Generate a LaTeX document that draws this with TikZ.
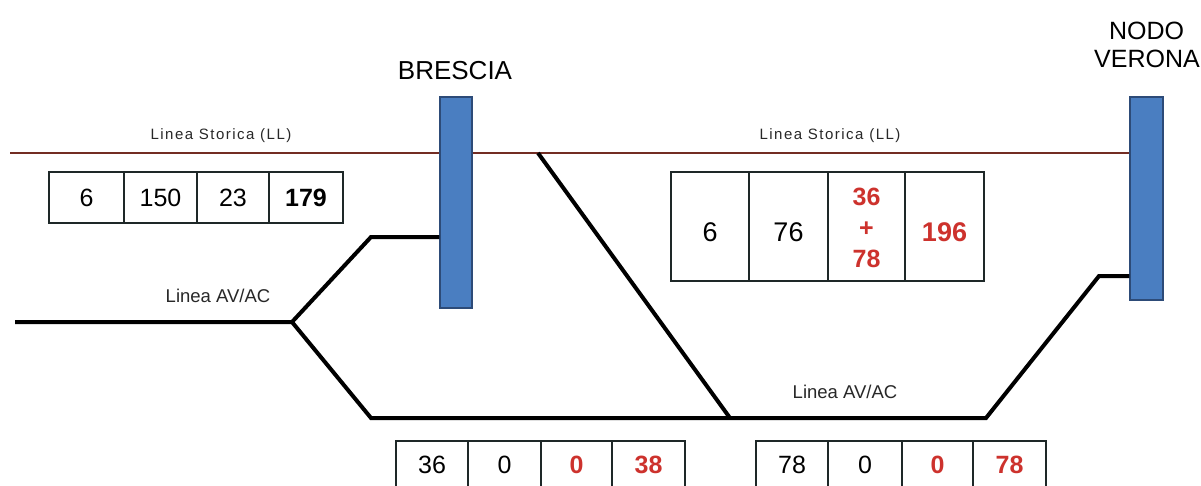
\documentclass[tikz,border=0pt]{standalone}
\usepackage{fontspec}
\setmainfont{Liberation Sans}
\definecolor{stcol}{RGB}{115,45,35}
\definecolor{barfill}{RGB}{74,126,193}
\definecolor{barline}{RGB}{45,75,120}
\definecolor{cellline}{RGB}{30,40,40}
\definecolor{numred}{RGB}{205,50,45}
\definecolor{labgray}{RGB}{40,40,40}
\begin{document}
\begin{tikzpicture}[x=1pt,y=-1pt,
  track/.style={line width=4pt, draw=black},
  storica/.style={line width=1.5pt, draw=stcol},
  bar/.style={draw=barline, fill=barfill, line width=1.2pt, inner sep=0pt},
  cell/.style={draw=cellline, line width=2pt, inner sep=0pt},
  num/.style={font=\fontsize{25}{30}\selectfont, text=black, inner sep=0pt},
  bnum/.style={font=\fontsize{25}{30}\selectfont\bfseries, text=black, inner sep=0pt},
  rnum/.style={font=\fontsize{25}{30}\selectfont\bfseries, text=numred, inner sep=0pt},
  slab/.style={font=\fontsize{15}{18}\selectfont\addfontfeatures{LetterSpace=10}, text=labgray, inner sep=0pt, anchor=base},
  alab/.style={font=\fontsize{18.5}{22}\selectfont, text=labgray, inner sep=0pt, anchor=base},
  station/.style={font=\fontsize{25}{28}\selectfont, text=black, inner sep=0pt, anchor=base}
]
\clip (0,0) rectangle (1201,485);
\fill[white] (0,0) rectangle (1201,485);

% stations
\node[bar, minimum width=32, minimum height=211] (bre) at (456,202.5) {};
\node[bar, minimum width=33, minimum height=203] (ver) at (1146.5,198.5) {};
\node[station, font=\fontsize{26}{28}\selectfont] (breL) at (455,79) {BRESCIA};
\node[station] (nodoL) at (1146.5,39) {NODO};
\node[station] (veroL) at (1147,67) {VERONA};

% Linea Storica
\coordinate (sl) at (10,153);
\draw[storica] (sl) -- (bre.west |- sl);
\draw[storica] (bre.east |- sl) -- (ver.west |- sl);
\node[slab] (stl1) at (221,139) {Linea Storica (LL)};
\node[slab] (stl2) at (830,139) {Linea Storica (LL)};

% Linea AV/AC
\coordinate (avs) at (15,322);
\coordinate (j1) at (292,322);
\coordinate (u1) at (371,237);
\coordinate (d1) at (371,418);
\coordinate (x1) at (538,153);
\coordinate (x2) at (730,418);
\coordinate (d2) at (986,418);
\coordinate (u2) at (1099,276);
\draw[track] (avs) -- (j1) -- (u1) -- (bre.west |- u1);
\draw[track] (j1) -- (d1) -- (x2) -- (d2) -- (u2) -- (ver.west |- u2);
\draw[track] (x1) -- (x2);
\node[alab] (avl1) at (218,302) {Linea AV/AC};
\node[alab] (avl2) at (845,398) {Linea AV/AC};

% top-left box
\node[cell, minimum width=75, minimum height=51] (a1) at (86.5,197.5) {};
\node[cell, minimum width=73, minimum height=51] (a2) at (160.5,197.5) {};
\node[cell, minimum width=72, minimum height=51] (a3) at (233,197.5) {};
\node[cell, minimum width=74, minimum height=51] (a4) at (306,197.5) {};
\node[num] at (a1.center) {6};
\node[num] at (a2.center) {150};
\node[num] at (a3.center) {23};
\node[bnum] at (a4.center) {179};

% middle box
\node[cell, minimum width=78, minimum height=109] (m1) at (710,226.5) {};
\node[cell, minimum width=79, minimum height=109] (m2) at (788.5,226.5) {};
\node[cell, minimum width=77, minimum height=109] (m3) at (866.5,226.5) {};
\node[cell, minimum width=79, minimum height=109] (m4) at (944.5,226.5) {};
\node[num, font=\fontsize{27}{30}\selectfont] at ([yshift=-6pt]m1.center) {6};
\node[num, font=\fontsize{27}{30}\selectfont] at ([yshift=-6pt]m2.center) {76};
\node[rnum, align=center, font=\fontsize{25}{31}\selectfont\bfseries] at ([yshift=-1.5pt]m3.center) {36\\+\\78};
\node[rnum, font=\fontsize{27}{30}\selectfont\bfseries] at ([yshift=-6pt]m4.center) {196};

% bottom-left box
\node[cell, minimum width=72, minimum height=48] (b1) at (432,465) {};
\node[cell, minimum width=73, minimum height=48] (b2) at (504.5,465) {};
\node[cell, minimum width=71, minimum height=48] (b3) at (576.5,465) {};
\node[cell, minimum width=73, minimum height=48] (b4) at (648.5,465) {};
\node[num] at (b1.center) {36};
\node[num] at (b2.center) {0};
\node[rnum] at (b3.center) {0};
\node[rnum] at (b4.center) {38};

% bottom-right box
\node[cell, minimum width=72, minimum height=48] (c1) at (792,465) {};
\node[cell, minimum width=74, minimum height=48] (c2) at (865,465) {};
\node[cell, minimum width=71, minimum height=48] (c3) at (937.5,465) {};
\node[cell, minimum width=73, minimum height=48] (c4) at (1009.5,465) {};
\node[num] at (c1.center) {78};
\node[num] at (c2.center) {0};
\node[rnum] at (c3.center) {0};
\node[rnum] at (c4.center) {78};
\end{tikzpicture}
\end{document}
